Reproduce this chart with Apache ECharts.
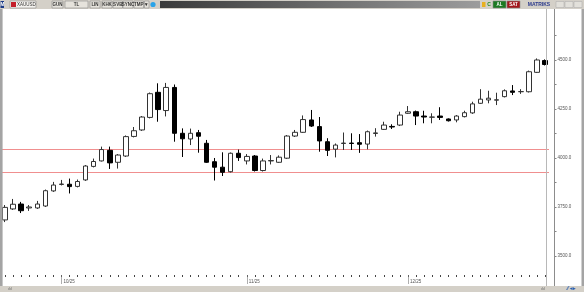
<!DOCTYPE html>
<html><head><meta charset="utf-8">
<script src="https://cdn.jsdelivr.net/npm/echarts@6/dist/echarts.min.js"></script>
<style>html,body{margin:0;padding:0;background:#fff}#c{width:584px;height:292px}</style>
</head><body><div id="c"></div>
<script>
const categories = [
 '2025-09-22','2025-09-23','2025-09-24','2025-09-25','2025-09-26','2025-09-29','2025-09-30',
 '2025-10-01','2025-10-02','2025-10-03','2025-10-06','2025-10-07','2025-10-08','2025-10-09','2025-10-10',
 '2025-10-13','2025-10-14','2025-10-15','2025-10-16','2025-10-17','2025-10-20','2025-10-21','2025-10-22',
 '2025-10-23','2025-10-24','2025-10-27','2025-10-28','2025-10-29','2025-10-30','2025-10-31',
 '2025-11-03','2025-11-04','2025-11-05','2025-11-06','2025-11-07','2025-11-10','2025-11-11','2025-11-12',
 '2025-11-13','2025-11-14','2025-11-17','2025-11-18','2025-11-19','2025-11-20','2025-11-21','2025-11-24',
 '2025-11-25','2025-11-26','2025-11-27','2025-11-28',
 '2025-12-01','2025-12-02','2025-12-03','2025-12-04','2025-12-05','2025-12-08','2025-12-09','2025-12-10',
 '2025-12-11','2025-12-12','2025-12-15','2025-12-16','2025-12-17','2025-12-18','2025-12-19','2025-12-22',
 '2025-12-23','2025-12-24'];
const opens  = [3684,3740,3765,3745,3745,3755,3832,3865,3866,3855,3888,3957,3985,4039,3978,4010,4110,4143,4207,4335,4242,4360,4126,4097,4129,4075,3981,3953,3930,4024,3985,4010,3936,3985,3978,3999,4112,4131,4194,4160,4083,4045,4074,4076,4078,4071,4125,4146,4161,4168,4228,4236,4214,4208,4214,4199,4194,4211,4230,4279,4296,4295,4313,4342,4338,4338,4437,4497];
const closes = [3748,3764,3731,3750,3765,3833,3862,3867,3854,3880,3959,3982,4043,3975,4015,4109,4139,4209,4328,4247,4360,4126,4098,4126,4111,3978,3953,3927,4024,4002,4008,3936,3985,3987,4004,4112,4131,4196,4163,4087,4039,4066,4076,4074,4070,4134,4128,4168,4158,4219,4236,4214,4209,4209,4207,4190,4214,4231,4276,4300,4305,4297,4343,4335,4339,4440,4500,4477];
const lows   = [3673,3735,3719,3730,3740,3750,3827,3860,3819,3850,3883,3952,3982,3944,3946,4005,4105,4138,4202,4185,4212,4083,4005,4066,4027,3975,3885,3908,3926,3985,3967,3931,3931,3967,3975,3995,4107,4128,4158,4032,4010,4003,4041,4041,4026,4044,4109,4143,4148,4163,4225,4168,4177,4177,4194,4186,4182,4207,4225,4276,4279,4270,4309,4321,4327,4334,4434,4472];
const highs  = [3760,3791,3776,3760,3781,3839,3878,3888,3895,3890,3964,3997,4058,4058,4020,4115,4158,4214,4334,4381,4383,4375,4151,4150,4143,4092,4000,4029,4028,4043,4020,4015,3997,4015,4013,4117,4143,4217,4245,4209,4101,4074,4130,4126,4122,4140,4152,4185,4172,4236,4265,4242,4241,4228,4259,4202,4219,4241,4287,4351,4343,4333,4350,4372,4351,4446,4508,4503];
const levelLines = [4045, 3925];
const yTickLabels = [3500, 3750, 4000, 4250, 4500];
const yMinorTicks = [3500, 3625, 3750, 3875, 4000, 4125, 4250, 4375, 4500, 4625];
const monthLabels = ['10/25', '11/25', '12/25'];

const ohlc = categories.map((d, i) => [opens[i], closes[i], lows[i], highs[i]]);
const monthStart = {};
let mi = 0;
categories.forEach((d, i) => {
  if (i > 0 && d.slice(5, 7) !== categories[i - 1].slice(5, 7)) { monthStart[i] = monthLabels[mi++]; }
});

const F = 'Liberation Sans, Arial, sans-serif';
function btn(x, w, t, fill, col) {
  return [
    {type:'rect', shape:{x:x, y:1, width:w, height:7}, style:{fill:fill||'#e6e3dc', stroke:'#8a8a8a', lineWidth:0.6}, z:100},
    {type:'text', x:x + w/2, y:4.6, style:{text:t, fill:col||'#333', font:'bold 4.5px ' + F, align:'center', verticalAlign:'middle'}, z:101}
  ];
}
const graphics = [
  {type:'rect', shape:{x:0, y:0, width:584, height:9}, style:{fill:'#d4d0c8'}, z:99},
  {type:'rect', shape:{x:0.5, y:1, width:3.5, height:7}, style:{fill:'#1c3b86'}, z:100},
  {type:'text', x:2.3, y:4.6, style:{text:'M', fill:'#fff', font:'bold 4.5px ' + F, align:'center', verticalAlign:'middle'}, z:101},
  {type:'rect', shape:{x:10, y:1, width:26, height:7}, style:{fill:'#f4f2ee', stroke:'#8a8a8a', lineWidth:0.6}, z:100},
  {type:'rect', shape:{x:11, y:2, width:5, height:5}, style:{fill:'#c41e2a'}, z:101},
  {type:'text', x:17, y:4.6, style:{text:'XAUUSD', fill:'#333', font:'4.5px ' + F, verticalAlign:'middle'}, z:101},
  ...btn(52, 11, 'GUN'), ...btn(65, 23, 'TL'), ...btn(90, 10, 'LIN'), ...btn(102, 10, 'KHK'),
  ...btn(113, 9.5, 'SVB'), ...btn(123, 10, 'SYNC'), ...btn(134, 9.5, 'TMP'), ...btn(144.5, 4.5, '▾'),
  {type:'circle', shape:{cx:153, cy:4.5, r:2.6}, style:{fill:'#2aa3e8'}, z:100},
  {type:'rect', shape:{x:160, y:1, width:320, height:7},
    style:{fill:{type:'linear', x:0, y:0, x2:1, y2:0, colorStops:[{offset:0, color:'#3a3a3a'}, {offset:1, color:'#9c9c9c'}]}}, z:100},
  {type:'rect', shape:{x:482, y:2, width:3.5, height:5}, style:{fill:'#e8b020'}, z:100},
  {type:'text', x:489, y:4.6, style:{text:'C', fill:'#1f8a1f', font:'bold 5px ' + F, align:'center', verticalAlign:'middle'}, z:101},
  ...btn(493, 13, 'AL', '#1d7a22', '#fff'), ...btn(507, 13, 'SAT', '#a3161b', '#fff'),
  {type:'text', x:539, y:4.6, style:{text:'MATRIKS', fill:'#2b3a8c', font:'bold 5px ' + F, align:'center', verticalAlign:'middle'}, z:101},
  {type:'rect', shape:{x:556, y:1.5, width:8, height:6}, style:{fill:'#e2e0da', stroke:'#aaa', lineWidth:0.5}, z:100},
  {type:'rect', shape:{x:565, y:1.5, width:8, height:6}, style:{fill:'#e2e0da', stroke:'#aaa', lineWidth:0.5}, z:100},
  {type:'rect', shape:{x:574, y:1.5, width:8, height:6}, style:{fill:'#e2e0da', stroke:'#aaa', lineWidth:0.5}, z:100},
  {type:'rect', shape:{x:0, y:9, width:2.6, height:278}, style:{fill:'#a4a4a4'}, z:99},
  {type:'rect', shape:{x:581.5, y:9, width:2.5, height:278}, style:{fill:'#a4a4a4'}, z:99},
  {type:'line', shape:{x1:546.5, y1:9, x2:546.5, y2:286}, style:{stroke:'#b8b8b8', lineWidth:1}, z:5},
  {type:'line', shape:{x1:554.5, y1:9, x2:554.5, y2:286}, style:{stroke:'#8c8c8c', lineWidth:1}, z:5},
  {type:'rect', shape:{x:0, y:286, width:584, height:6}, style:{fill:'#d4d0c8'}, z:99},
  {type:'text', x:8, y:288.5, style:{text:'ılıl', fill:'#666', font:'4px ' + F, verticalAlign:'middle'}, z:101},
  {type:'text', x:541, y:288.5, style:{text:'ılıl', fill:'#666', font:'4px ' + F, verticalAlign:'middle'}, z:101},
  {type:'text', x:567, y:288.5, style:{text:'⁄⁄ ◂▸', fill:'#2a5fb0', font:'bold 5px ' + F, verticalAlign:'middle'}, z:101}
];

const chart = echarts.init(document.getElementById('c'), null, {renderer:'canvas'});
chart.setOption({
  animation:false,
  backgroundColor:'#fff',
  grid:{left:1, width:548, top:10, height:265, outerBoundsMode:'none', containLabel:false},
  xAxis:[{
    type:'category', data:categories, boundaryGap:true,
    axisLine:{show:false},
    axisTick:{show:true, alignWithLabel:true, interval:0, length:2, lineStyle:{color:'#444', width:1}},
    axisLabel:{show:true, interval:(i) => monthStart[i] !== undefined, formatter:(v, i) => monthStart[i] || '',
      align:'left', margin:4, padding:[0,0,0,2], fontSize:4.5, color:'#555', fontFamily:F},
    splitLine:{show:false}
  },{
    type:'category', data:categories, boundaryGap:true, position:'bottom', gridIndex:0,
    axisLine:{show:false},
    axisTick:{show:true, alignWithLabel:true, interval:(i) => monthStart[i] !== undefined, length:9, lineStyle:{color:'#777', width:0.6}},
    axisLabel:{show:false}, splitLine:{show:false}
  }],
  yAxis:{
    type:'value', position:'right', offset:5.5, min:3403, max:4755, scale:true,
    axisLine:{show:false},
    axisTick:{show:true, customValues:yMinorTicks, length:2, lineStyle:{color:'#666', width:0.8}},
    axisLabel:{customValues:yTickLabels, formatter:(v) => v.toFixed(1), fontSize:4.5, color:'#555', margin:3, fontFamily:F},
    splitLine:{show:false}
  },
  series:[{
    type:'candlestick', data:ohlc, barWidth:5, clip:false, z:3,
    itemStyle:{color:'#ffffff', color0:'#000000', borderColor:'#333333', borderColor0:'#000000', borderWidth:1},
    markLine:{silent:true, symbol:['none','none'], label:{show:false}, z:1,
      lineStyle:{color:'#f08f8f', width:1, type:'solid', opacity:1},
      data:levelLines.map(v => ({yAxis:v}))}
  }],
  graphic:graphics
});
</script></body></html>
